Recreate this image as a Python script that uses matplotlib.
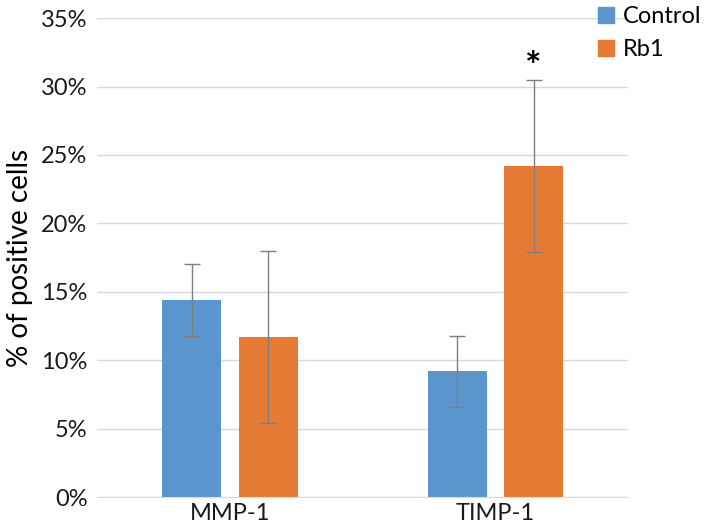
import numpy as np
import matplotlib.pyplot as plt
from matplotlib.ticker import PercentFormatter
from matplotlib.patches import Patch

categories = ['MMP-1', 'TIMP-1']
control = [14.4, 9.2]
control_err = [2.6, 2.6]
rb1 = [11.7, 24.2]
rb1_err = [6.3, 6.3]
yticks = [0, 5, 10, 15, 20, 25, 30, 35]

blue = '#5B95CD'
orange = '#E57A35'

plt.rcParams['font.family'] = ['Lato', 'DejaVu Sans']

fig = plt.figure(figsize=(7.09, 5.28), dpi=100)
ax = fig.add_axes([0.137, 0.0587, 0.749, 0.907])

x = np.arange(len(categories))
w = 0.222
err_kw = dict(ecolor='#7f7f7f', elinewidth=1, capsize=6, capthick=1)
ax.bar(x - 0.144, control, w, yerr=control_err, color=blue, error_kw=err_kw, zorder=2)
ax.bar(x + 0.144, rb1, w, yerr=rb1_err, color=orange, error_kw=err_kw, zorder=2)

ax.text(x[1] + 0.144, rb1[1] + rb1_err[1] - 0.4, '*', ha='center', va='bottom',
        fontsize=28, fontweight='bold')

ax.set_xlim(-0.5, 1.5)
ax.set_ylim(0, 35)
ax.set_yticks(yticks)
ax.yaxis.set_major_formatter(PercentFormatter(decimals=0))
ax.set_xticks(x)
ax.set_xticklabels(categories)
ax.grid(axis='y', color='#d9d9d9', linewidth=1, zorder=0)
for s in ['top', 'right', 'left']:
    ax.spines[s].set_visible(False)
ax.spines['bottom'].set_color('#d9d9d9')
ax.tick_params(axis='both', length=0, labelsize=17, colors='#1a1a1a')
ax.tick_params(axis='y', pad=7)
ax.tick_params(axis='x', pad=4)
ax.set_ylabel('% of positive cells', fontsize=20, labelpad=6)

handles = [Patch(color=blue), Patch(color=orange)]
fig.legend(handles, ['Control', 'Rb1'], loc='upper left', bbox_to_anchor=(0.813, 1.028),
           frameon=False, fontsize=17, handlelength=0.7, handleheight=0.7,
           handletextpad=0.35, labelspacing=0.5)

fig.savefig('out.png', dpi=100)
